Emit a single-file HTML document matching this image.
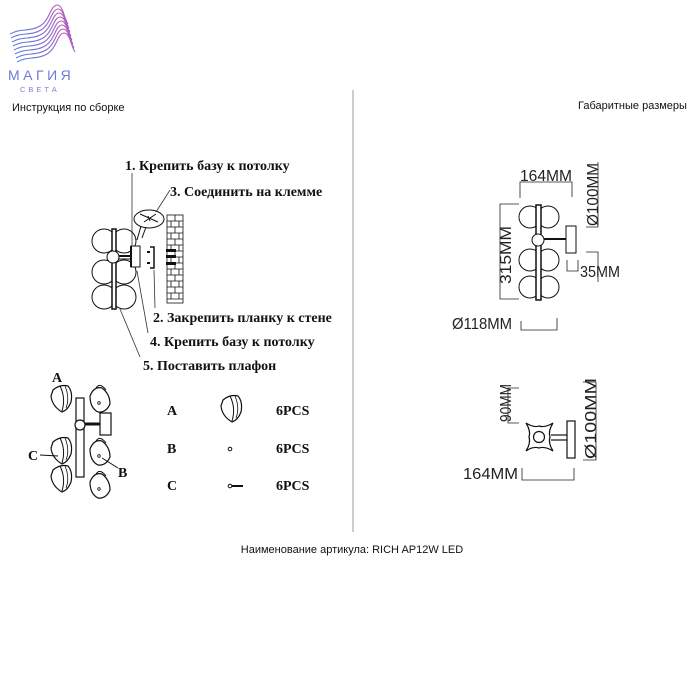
<!DOCTYPE html>
<html><head><meta charset="utf-8"><style>
body{margin:0;background:#fff;width:700px;height:700px;overflow:hidden}
svg{display:block}
.s{font-family:"Liberation Serif","Noto Serif CJK SC",serif;font-weight:bold;font-size:14px;fill:#111}
.a{font-family:"Liberation Sans","Noto Sans CJK SC",sans-serif;font-size:11px;fill:#111}
.d{font-family:"Liberation Sans",sans-serif;font-size:16px;fill:#222}
</style></head><body>
<svg width="700" height="700" viewBox="0 0 700 700" xmlns="http://www.w3.org/2000/svg">
<defs>
<linearGradient id="g" x1="0" y1="1" x2="1" y2="0"><stop offset="0" stop-color="#5b7fd6"/><stop offset="0.5" stop-color="#8a6ad0"/><stop offset="1" stop-color="#c05ab8"/></linearGradient>
<g id="sh"><path d="M-9,-8 Q-2,-14 6,-12 Q11,-6 9,4 Q6,12 0,14 Q-10,8 -11,-2 Z" fill="#fff" stroke="#111" stroke-width="1.2"/><path d="M-2,-12 Q4,0 0,13" fill="none" stroke="#111" stroke-width="1"/><path d="M3,-12 Q8,0 4,10" fill="none" stroke="#111" stroke-width="0.8"/></g>
<g id="sb"><path d="M-10,-4 Q-6,-14 2,-12 Q10,-6 10,4 Q6,13 -2,12 Q-10,8 -10,-4 Z" fill="#fff" stroke="#111" stroke-width="1.2"/><path d="M-4,-12 Q0,-18 6,-10" fill="none" stroke="#111" stroke-width="1"/><circle cx="-1" cy="3" r="1.3" fill="none" stroke="#111" stroke-width="0.8"/></g>
<path id="w" d="M10,34 C20,28 30,32 40,26 C50,20 50,6 57,5 C63,5 64,18 68,24"/>
</defs>
<!-- logo -->
<g fill="none" stroke="url(#g)" stroke-width="1.1">
<use href="#w"/><use href="#w" x="1" y="4"/><use href="#w" x="2" y="8"/><use href="#w" x="3" y="12"/><use href="#w" x="4" y="16"/><use href="#w" x="5" y="20"/><use href="#w" x="6" y="24"/><use href="#w" x="7" y="28"/>
</g>
<text x="8" y="80" font-family="Liberation Sans,sans-serif" font-size="14" letter-spacing="3.5" fill="#6f7bd6">МАГИЯ</text>
<text x="20" y="92" font-family="Liberation Sans,sans-serif" font-size="7.5" letter-spacing="3" fill="#8a78d6">СВЕТА</text>
<text class="a" x="12" y="111">Инструкция по сборке</text>
<text class="a" x="578" y="109">Габаритные размеры</text>
<line x1="353" y1="90" x2="353" y2="532" stroke="#999" stroke-width="1"/>
<text class="a" x="352" y="553" text-anchor="middle">Наименование артикула: RICH AP12W LED</text>

<!-- left assembly -->
<g stroke="#111" fill="#fff" stroke-width="1">
<circle cx="104" cy="241" r="12"/><circle cx="124" cy="241" r="12"/>
<circle cx="104" cy="272" r="12"/><circle cx="124" cy="272" r="12"/>
<circle cx="104" cy="297" r="12"/><circle cx="124" cy="297" r="12"/>
<rect x="112" y="229" width="4" height="80" fill="#fff" stroke-width="1.5"/>
<circle cx="113" cy="257" r="6"/>
<line x1="119" y1="256" x2="131" y2="256" stroke-width="2"/>
<line x1="119" y1="259" x2="131" y2="259"/>
<rect x="131" y="246" width="9" height="21"/>
<line x1="131" y1="246" x2="131" y2="267" stroke-width="2"/>
<path d="M150,247 L154,247 L154,268 L150,268" fill="none" stroke-width="1.5"/>
<line x1="147" y1="252" x2="150" y2="252" stroke-width="2"/><line x1="147" y1="263" x2="150" y2="263" stroke-width="2"/>
<ellipse cx="149" cy="219" rx="15" ry="9"/>
<path d="M141,226 L137,240 M146,227 L142,238" fill="none"/>
<path d="M140,214 L158,222 M144,222 L156,214 M148,216 L150,221" fill="none"/>
</g>
<g fill="#fff" stroke="#111" stroke-width="0.8">
<rect x="167" y="215" width="16" height="88"/>
<path d="M167,221H183M167,227H183M167,233H183M167,239H183M167,245H183M167,251H183M167,257H183M167,263H183M167,269H183M167,275H183M167,281H183M167,287H183M167,293H183M167,299H183"/>
<path d="M175,215V221M171,221V227M179,221V227M175,227V233M171,233V239M179,233V239M175,239V245M171,245V251M179,245V251M175,251V257M171,257V263M179,257V263M175,263V269M171,269V275M179,269V275M175,275V281M171,281V287M179,281V287M175,287V293M171,293V299M179,293V299"/>
</g>
<rect x="166" y="249" width="10" height="3" fill="#111"/><rect x="166" y="255" width="10" height="3" fill="#111"/><rect x="166" y="262" width="10" height="3" fill="#111"/>
<g stroke="#333" stroke-width="0.8" fill="none">
<line x1="132" y1="173" x2="132" y2="246"/>
<line x1="155" y1="308" x2="154" y2="270"/>
<line x1="148" y1="333" x2="137" y2="271"/>
<line x1="140" y1="357" x2="120" y2="309"/>
<line x1="170" y1="190" x2="156" y2="212"/>
</g>
<text class="s" x="125" y="170">1. Крепить базу к потолку</text>
<text class="s" x="170" y="196">3. Соединить на клемме</text>
<text class="s" x="153" y="322">2. Закрепить планку к стене</text>
<text class="s" x="150" y="346">4. Крепить базу к потолку</text>
<text class="s" x="143" y="370">5. Поставить плафон</text>

<!-- small diagram -->
<g stroke="#111" fill="#fff" stroke-width="1.2">
<rect x="76" y="398" width="8" height="79"/>
<circle cx="80" cy="425" r="5"/>
<line x1="85" y1="424" x2="101" y2="424" stroke-width="3"/>
<rect x="100" y="413" width="11" height="22"/>
</g>
<use href="#sh" x="62" y="398"/><use href="#sh" x="62" y="450"/><use href="#sh" x="62" y="478"/>
<use href="#sb" x="100" y="400"/><use href="#sb" x="100" y="453"/><use href="#sb" x="100" y="486"/>
<line x1="40" y1="455" x2="58" y2="456" stroke="#111" stroke-width="1"/>
<line x1="102" y1="458" x2="118" y2="468" stroke="#111" stroke-width="1"/>
<text class="s" x="52" y="382">A</text>
<text class="s" x="28" y="460">C</text>
<text class="s" x="118" y="477">B</text>
<text class="s" x="167" y="415">A</text><text class="s" x="167" y="453">B</text><text class="s" x="167" y="490">C</text>
<text class="s" x="276" y="415">6PCS</text><text class="s" x="276" y="453">6PCS</text><text class="s" x="276" y="490">6PCS</text>
<use href="#sh" x="232" y="408"/>
<circle cx="230" cy="449" r="1.8" fill="none" stroke="#111"/>
<circle cx="230" cy="486" r="1.8" fill="none" stroke="#111"/><line x1="232" y1="486" x2="243" y2="486" stroke="#111" stroke-width="2"/>

<!-- right top drawing -->
<g stroke="#111" fill="#fff" stroke-width="1">
<circle cx="530" cy="217" r="11"/><circle cx="548" cy="217" r="11"/>
<circle cx="530" cy="260" r="11"/><circle cx="548" cy="260" r="11"/>
<circle cx="530" cy="287" r="11"/><circle cx="548" cy="287" r="11"/>
<rect x="536" y="205" width="5" height="95" stroke-width="1.5"/>
<circle cx="538" cy="240" r="6"/>
<line x1="544" y1="239" x2="566" y2="239" stroke-width="2"/>
<rect x="566" y="226" width="10" height="27"/>
</g>
<g stroke="#222" stroke-width="0.8" fill="none">
<path d="M520,198V182H572V197"/>
<path d="M519,204H500V299H519"/>
<path d="M586,227H598V162"/><path d="M586,252H598V282"/>
<path d="M567,260V271H578V260"/>
<path d="M521,321V330H557V318"/>
<path d="M519,388H508V423H519"/>
<path d="M583,382H596V460H583"/>
<path d="M522,468V480H574V468"/>
</g>
<text class="d" x="520" y="181" textLength="52" lengthAdjust="spacingAndGlyphs">164MM</text>
<text class="d" transform="translate(511,284) rotate(-90)" textLength="58" lengthAdjust="spacingAndGlyphs">315MM</text>
<text class="d" transform="translate(598,226) rotate(-90)" textLength="63" lengthAdjust="spacingAndGlyphs">Ø100MM</text>
<text class="d" x="580" y="277" textLength="40" lengthAdjust="spacingAndGlyphs">35MM</text>
<text class="d" x="452" y="329" textLength="60" lengthAdjust="spacingAndGlyphs">Ø118MM</text>
<text class="d" transform="translate(511,422) rotate(-90)" textLength="38" lengthAdjust="spacingAndGlyphs">90MM</text>
<text class="d" transform="translate(596,459) rotate(-90)" textLength="81" lengthAdjust="spacingAndGlyphs">Ø100MM</text>
<text class="d" x="463" y="479" textLength="55" lengthAdjust="spacingAndGlyphs">164MM</text>
<!-- cross -->
<g stroke="#111" fill="#fff" stroke-width="1.2">
<path d="M526,423 Q534,428 539,426 Q545,428 553,423 Q548,431 550,437 Q548,443 553,451 Q545,446 539,448 Q533,446 526,451 Q531,443 529,437 Q531,431 526,423 Z"/>
<circle cx="539" cy="437" r="5.5"/>
<line x1="551" y1="435" x2="567" y2="435"/><line x1="551" y1="440" x2="567" y2="440"/>
<rect x="567" y="421" width="8" height="37"/>
</g>
</svg>
</body></html>
